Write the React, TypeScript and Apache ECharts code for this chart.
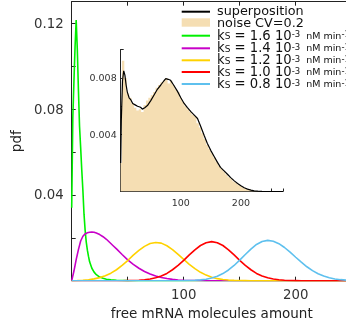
import React, { useEffect, useRef } from 'react';
import * as echarts from 'echarts';

const FONT = 'DejaVu Sans';

// x grid (molecules) for the broad curves
const X_STEP5 = [0, 5, 10, 15, 20, 25, 30, 35, 40, 45, 50, 55, 60, 65, 70, 75, 80, 85, 90, 95, 100, 105, 110, 115, 120, 125, 130, 135, 140, 145, 150, 155, 160, 165, 170, 175, 180, 185, 190, 195, 200, 205, 210, 215, 220, 225, 230, 235, 240, 245, 250];

const GREEN_X = [0, 1, 2, 3, 4, 5, 6, 7, 8, 9, 10, 11, 12, 13, 14, 15, 16, 18, 20, 22, 25, 28, 31, 35, 40, 45, 50, 60, 250];
const GREEN_Y = [0.034, 0.076, 0.093, 0.109, 0.1215, 0.108, 0.089, 0.072, 0.062, 0.0515, 0.042, 0.031, 0.0235, 0.018, 0.0142, 0.0113, 0.0088, 0.0058, 0.004, 0.0028, 0.0017, 0.0011, 0.0007, 0.0004, 0.0002, 0.0001, 0.00004, 0, 0];

const MAGENTA_X = [0, 2, 4, 6, 8, 10, 12, 14, 16, 18, 20, 22, 25, 28, 31, 34, 37, 40, 45, 50, 55, 60, 65, 70, 75, 80, 85, 90, 95, 100, 110, 120, 130, 250];
const MAGENTA_Y = [0, 0.0045, 0.0098, 0.0145, 0.0185, 0.0207, 0.0218, 0.0223, 0.0226, 0.0227, 0.0226, 0.0222, 0.0215, 0.0205, 0.0193, 0.0178, 0.0163, 0.0148, 0.0122, 0.0097, 0.0076, 0.0058, 0.0043, 0.0031, 0.0022, 0.0015, 0.001, 0.0006, 0.00035, 0.0002, 0.00006, 0.00002, 0, 0];

const YELLOW_Y = [0, 0.0001, 0.00024, 0.00047, 0.00085, 0.00143, 0.0023, 0.0035, 0.0051, 0.0071, 0.0094, 0.0119, 0.0141, 0.016, 0.0173, 0.0178, 0.0175, 0.0163, 0.0145, 0.0123, 0.0099, 0.0076, 0.0056, 0.0039, 0.0026, 0.0016, 0.00095, 0.00054, 0.00029, 0.00015, 0.00007, 0.00003, 0, 0, 0, 0, 0, 0, 0, 0, 0, 0, 0, 0, 0, 0, 0, 0, 0, 0, 0];

const RED_Y = [0, 0, 0, 0, 0, 0, 0, 0, 0, 0, 0.00005, 0.0001, 0.00022, 0.00043, 0.00078, 0.00134, 0.0022, 0.0034, 0.0051, 0.0071, 0.0095, 0.012, 0.0144, 0.0164, 0.0177, 0.0182, 0.0177, 0.0164, 0.0144, 0.012, 0.0095, 0.0071, 0.0051, 0.0034, 0.0022, 0.00134, 0.00078, 0.00043, 0.00022, 0.0001, 0.00005, 0, 0, 0, 0, 0, 0, 0, 0, 0, 0];

const BLUE_Y = [0, 0, 0, 0, 0, 0, 0, 0, 0, 0, 0, 0, 0, 0, 0, 0, 0, 0, 0, 0, 0.00004, 0.00009, 0.0002, 0.00038, 0.00071, 0.00126, 0.0021, 0.00333, 0.005, 0.0071, 0.00956, 0.0122, 0.01474, 0.01687, 0.0183, 0.0188, 0.0184, 0.01724, 0.01547, 0.01329, 0.01093, 0.00861, 0.00649, 0.00469, 0.00324, 0.00215, 0.00136, 0.00083, 0.00048, 0.00027, 0.00014];

// inset: superposition line
const SUP_X = [0, 1, 3, 5, 7, 9, 11, 14, 17, 20, 24, 28, 33, 36, 40, 44.5, 50, 55.5, 61, 66.7, 72, 75, 79, 83, 88, 94.5, 100, 105.5, 111, 116.7, 122, 127.8, 133, 138.9, 144, 150, 155, 161, 166, 172, 178, 183, 189, 194.5, 200, 205.5, 211, 216.7, 222, 228, 235, 245, 270];
const SUP_Y = [0.002, 0.005, 0.0078, 0.0085, 0.0082, 0.0075, 0.007, 0.0066, 0.00645, 0.0062, 0.0061, 0.006, 0.00593, 0.0058, 0.0059, 0.00605, 0.0064, 0.0068, 0.0072, 0.0075, 0.0078, 0.00795, 0.0079, 0.00783, 0.0075, 0.00705, 0.0066, 0.0062, 0.0059, 0.00562, 0.0054, 0.00514, 0.0046, 0.00395, 0.0034, 0.00288, 0.0025, 0.00205, 0.0017, 0.00145, 0.0012, 0.00098, 0.00075, 0.00057, 0.0004, 0.00026, 0.00017, 0.0001, 0.00005, 0.00002, 0.00001, 0, 0];

// inset: noise histogram (bin left edges and heights)
const HIST_EDGES = [0, 2, 6, 10, 14, 18, 22, 26, 30, 34, 38, 42, 46, 50, 54, 58, 62, 66, 70, 74, 78, 82, 86, 90, 94, 98, 102, 106, 110, 114, 118, 122, 126, 130, 134, 138, 142, 146, 150, 154, 158, 162, 166, 170, 174, 178, 182, 186, 190, 194, 198, 202, 206, 210, 214, 218, 222, 226, 230, 234, 238, 242, 246, 250, 254, 258, 262, 266, 270];
const HIST_VALUES = [
  0.002, 0.0092, 0.008, 0.0069, 0.0066, 0.0062, 0.0059, 0.0057, 0.0058, 0.0056,
  0.0061, 0.0064, 0.0066, 0.0068, 0.007, 0.0073, 0.0075, 0.0077, 0.0078, 0.008,
  0.0076, 0.0078, 0.0075, 0.0072, 0.007, 0.0066, 0.0063, 0.006, 0.0058, 0.0056,
  0.0054, 0.0053, 0.0048, 0.0045, 0.0041, 0.0037, 0.0033, 0.003, 0.0027, 0.0024,
  0.0021, 0.0018, 0.0016, 0.0014, 0.0012, 0.001, 0.0009, 0.0007, 0.0006, 0.00048,
  0.00038, 0.00028, 0.0002, 0.00014, 0.0001, 0.00006, 0.00004, 0.00002, 0.00001, 0,
  0, 0, 0, 0, 0, 0, 0, 0, 0,
];

const LEGEND_ROWS = [
  { ks: '1.6', color: '#00f000', y: 35.7 },
  { ks: '1.4', color: '#c800c8', y: 48.3 },
  { ks: '1.2', color: '#ffd200', y: 60.3 },
  { ks: '1.0', color: '#ff0000', y: 72 },
  { ks: '0.8', color: '#5ec0ee', y: 84 },
];

const pair = (xs: number[], ys: number[]) => xs.map((x, i) => [x, ys[i]]);

export default function App() {
  const ref = useRef<HTMLDivElement>(null);
  useEffect(() => {
    if (!ref.current) return;
    const chart = echarts.init(ref.current, null, { renderer: 'svg' });
    const axisLine = { show: true, onZero: false, lineStyle: { color: '#222', width: 1 } };
    const mainLabel = { fontSize: 13.3, fontFamily: FONT, color: '#333' };
    const insetLabel = { fontSize: 9.5, fontFamily: FONT, color: '#333' };
    const xFmt = (v: number) => (v === 100 || v === 200 ? String(v) : '');
    const lineSeries = (name: string, data: number[][], color: string) => ({
      name, type: 'line', xAxisIndex: 0, yAxisIndex: 0, data, showSymbol: false, symbol: 'none',
      lineStyle: { color, width: 1.6 }, itemStyle: { color }, z: 3,
    });
    const graphics: any[] = [
      { type: 'line', shape: { x1: 181.7, y1: 11.7, x2: 210, y2: 11.7 }, style: { stroke: '#000', lineWidth: 2 } },
      { type: 'text', x: 217, y: 10.5, style: { text: 'superposition', fontSize: 12.8, fontFamily: FONT, fill: '#111', verticalAlign: 'middle', lineHeight: 10 } },
      { type: 'rect', shape: { x: 181.7, y: 18.3, width: 28.3, height: 8.4 }, style: { fill: '#f5deb3' } },
      { type: 'text', x: 217, y: 22.3, style: { text: 'noise CV=0.2', fontSize: 12.8, fontFamily: FONT, fill: '#111', verticalAlign: 'middle', lineHeight: 10 } },
    ];
    LEGEND_ROWS.forEach((r) => {
      graphics.push({ type: 'line', shape: { x1: 181.7, y1: r.y, x2: 210, y2: r.y }, style: { stroke: r.color, lineWidth: 2 } });
      graphics.push({
        type: 'text', x: 217, y: r.y - 0.5,
        style: {
          text: `{n|k}{sub|S}{n| = ${r.ks} 10}{sup|-3}{u|  nM min}{sup|-1}`,
          verticalAlign: 'middle', fill: '#111', fontFamily: FONT,
          rich: {
            n: { fontSize: 13.2, fontFamily: FONT, fill: '#111', lineHeight: 11 },
            sub: { fontSize: 9, fontFamily: FONT, fill: '#111', lineHeight: 2, verticalAlign: 'bottom' },
            sup: { fontSize: 8.5, fontFamily: FONT, fill: '#111', lineHeight: 6, verticalAlign: 'top' },
            u: { fontSize: 9.5, fontFamily: FONT, fill: '#111', lineHeight: 11 },
          },
        },
      });
    });
    chart.setOption({
      animation: false,
      grid: [
        { left: 71.7, top: 1.7, width: 280, height: 279, outerBoundsMode: 'none', containLabel: false },
        { left: 120.7, top: 49.5, width: 162.3, height: 142, outerBoundsMode: 'none', containLabel: false },
      ],
      xAxis: [
        {
          type: 'value', gridIndex: 0, min: 0, max: 250, interval: 50, position: 'bottom',
          axisLine, axisTick: { inside: true, length: 4, lineStyle: { color: '#222' } },
          axisLabel: { ...mainLabel, formatter: xFmt, margin: 7 }, splitLine: { show: false },
          name: 'free mRNA molecules amount', nameLocation: 'middle', nameGap: 25,
          nameTextStyle: { fontSize: 13.5, fontFamily: FONT, color: '#222' },
        },
        {
          type: 'value', gridIndex: 0, min: 0, max: 250, interval: 50, position: 'top',
          axisLine, axisTick: { inside: true, length: 4, lineStyle: { color: '#222' } },
          axisLabel: { show: false }, splitLine: { show: false },
        },
        {
          type: 'value', gridIndex: 1, min: 0, max: 270, interval: 50, position: 'bottom',
          axisLine, axisTick: { inside: true, length: 3, lineStyle: { color: '#222' } },
          axisLabel: { ...insetLabel, formatter: xFmt, margin: 6 }, splitLine: { show: false },
        },
      ],
      yAxis: [
        {
          type: 'value', gridIndex: 0, min: 0, max: 0.13, interval: 0.02,
          axisLine, axisTick: { inside: true, length: 4, lineStyle: { color: '#222' } },
          axisLabel: {
            ...mainLabel, margin: 8,
            formatter: (v: number) => { const k = Math.round(v * 100); return k > 0 && k % 4 === 0 ? (k / 100).toFixed(2) : ''; },
          },
          splitLine: { show: false },
          name: 'pdf', nameLocation: 'middle', nameGap: 39,
          nameTextStyle: { fontSize: 13.5, fontFamily: FONT, color: '#222' },
        },
        {
          type: 'value', gridIndex: 1, min: 0, max: 0.01, interval: 0.002,
          axisLine, axisTick: { inside: true, length: 3, lineStyle: { color: '#222' } },
          axisLabel: {
            ...insetLabel, margin: 4,
            formatter: (v: number) => { const k = Math.round(v * 1000); return k > 0 && k % 4 === 0 ? (k / 1000).toFixed(3) : ''; },
          },
          splitLine: { show: false },
        },
      ],
      series: [
        lineSeries('ks 1.6', pair(GREEN_X, GREEN_Y), '#00f000'),
        lineSeries('ks 1.4', pair(MAGENTA_X, MAGENTA_Y), '#c800c8'),
        lineSeries('ks 1.2', pair(X_STEP5, YELLOW_Y), '#ffd200'),
        lineSeries('ks 1.0', pair(X_STEP5, RED_Y), '#ff0000'),
        lineSeries('ks 0.8', pair(X_STEP5, BLUE_Y), '#5ec0ee'),
        {
          name: 'noise CV=0.2', type: 'line', xAxisIndex: 2, yAxisIndex: 1, step: 'end',
          data: pair(HIST_EDGES, HIST_VALUES), symbol: 'none', showSymbol: false,
          lineStyle: { width: 0, color: '#f5deb3' }, areaStyle: { color: '#f5deb3', opacity: 1 }, z: 2,
        },
        {
          name: 'superposition', type: 'line', xAxisIndex: 2, yAxisIndex: 1,
          data: pair(SUP_X, SUP_Y), symbol: 'none', showSymbol: false,
          lineStyle: { width: 1.2, color: '#000' }, z: 4,
        },
      ],
      graphic: graphics,
    });
    return () => chart.dispose();
  }, []);
  return <div ref={ref} style={{ position: 'fixed', left: 0, top: 0, width: 346, height: 331 }} />;
}
